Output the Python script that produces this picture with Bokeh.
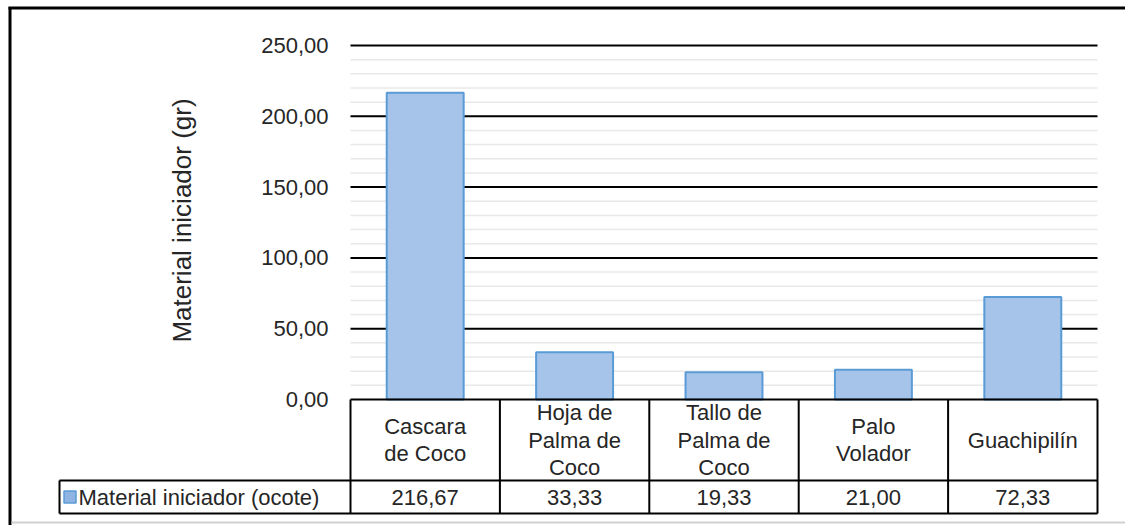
from bokeh.plotting import figure
from bokeh.models import Range1d, ColumnDataSource
from bokeh.core.properties import value
from bokeh.embed import file_html
from bokeh.resources import INLINE
import math

# ---- data ----
categories = ["Cascara\nde Coco", "Hoja de\nPalma de\nCoco", "Tallo de\nPalma de\nCoco", "Palo\nVolador", "Guachipilín"]
values = [216.67, 33.33, 19.33, 21.00, 72.33]
value_labels = ["216,67", "33,33", "19,33", "21,00", "72,33"]
series_name = "Material iniciador (ocote)"
y_title = "Material iniciador (gr)"
major_ticks = [0, 50, 100, 150, 200, 250]
major_tick_labels = ["0,00", "50,00", "100,00", "150,00", "200,00", "250,00"]
minor_ticks = [t for t in range(10, 250, 10) if t % 50 != 0]

# ---- layout constants (pixels, origin top-left of figure) ----
W, H = 1125, 525
CAT_PX = 149.4          # width of one category column
PLOT_LEFT_PX = 350      # x of left edge of plot area
ZERO_PX = 399           # y of value 0
PX_PER_UNIT = 1.416     # pixels per y unit

x0 = -0.5 - PLOT_LEFT_PX / CAT_PX
x1 = x0 + W / CAT_PX
y1 = ZERO_PX / PX_PER_UNIT
y0 = -(H - ZERO_PX) / PX_PER_UNIT

def dx(px):
    return x0 + px / CAT_PX

def dy(py):
    return (ZERO_PX - py) / PX_PER_UNIT

FONT = value("Liberation Sans")
TXT = "#262626"
FS = "22px"
n = len(categories)
xs = list(range(n))

p = figure(width=W, height=H, output_backend="svg", toolbar_location=None,
           x_range=Range1d(x0, x1), y_range=Range1d(y0, y1),
           min_border=0, border_fill_color="white", background_fill_color="white")
p.axis.visible = False
p.grid.visible = False
p.outline_line_color = None

left = -0.5
right = n - 0.5

# minor gridlines
p.segment(x0=[left] * len(minor_ticks), y0=minor_ticks, x1=[right] * len(minor_ticks), y1=minor_ticks,
          line_color="#e8e8e8", line_width=1.5)
# major gridlines (0 drawn later as table border)
mt = [t for t in major_ticks if t > 0]
p.segment(x0=[left] * len(mt), y0=mt, x1=[right] * len(mt), y1=mt, line_color="black", line_width=2)

# bars
src = ColumnDataSource(dict(x=xs, top=values))
p.vbar(x="x", top="top", bottom=0, width=0.515, source=src,
       fill_color="#a6c3ea", line_color="#5b9bd5", line_width=2)

# y tick labels
p.text(x=[dx(328)] * len(major_ticks), y=major_ticks, text=major_tick_labels,
       text_align="right", text_baseline="middle", text_font=FONT, text_font_size=FS,
       text_color=TXT)

# y-axis title
p.text(x=[dx(181)], y=[dy(220)], text=[y_title], angle=math.pi / 2,
       text_align="center", text_baseline="middle", text_font=FONT, text_font_size="26px",
       text_color=TXT)

# ---- data table ----
row_div = dy(480)
bottom = dy(513)
leg_left = dx(59)
bounds = [i - 0.5 for i in range(n + 1)]
# vertical lines of the columns
p.segment(x0=bounds, y0=[0] * len(bounds), x1=bounds, y1=[bottom] * len(bounds),
          line_color="black", line_width=2)
# legend cell left line
p.segment(x0=[leg_left], y0=[row_div], x1=[leg_left], y1=[bottom], line_color="black", line_width=2)
# horizontal lines
p.segment(x0=[left, leg_left, leg_left], y0=[0, row_div, bottom],
          x1=[right, right, right], y1=[0, row_div, bottom], line_color="black", line_width=2)

# category labels
p.text(x=xs, y=[(0 + row_div) / 2] * n, text=categories, text_align="center", text_baseline="middle",
       text_font=FONT, text_font_size=FS, text_color=TXT, text_line_height=1.1)
# value labels
p.text(x=xs, y=[(row_div + bottom) / 2] * n, text=value_labels, text_align="center",
       text_baseline="middle", text_font=FONT, text_font_size=FS, text_color=TXT)
# legend swatch and name
p.rect(x=[dx(69.5)], y=[(row_div + bottom) / 2], width=12 / CAT_PX, height=12 / PX_PER_UNIT,
       fill_color="#8fb4e3", line_color="#5b9bd5", line_width=1.5)
p.text(x=[dx(78)], y=[(row_div + bottom) / 2], text=[series_name], text_align="left",
       text_baseline="middle", text_font=FONT, text_font_size=FS, text_color=TXT)

# ---- outer frame ----
p.segment(x0=[dx(9.5), dx(8)], y0=[dy(6.5), dy(7.5)], x1=[dx(9.5), dx(W)], y1=[dy(H), dy(7.5)],
          line_color="black", line_width=3)
p.segment(x0=[dx(11)], y0=[dy(522)], x1=[dx(W)], y1=[dy(522)], line_color="#d0d0d0", line_width=2)

open("out.html", "w").write(file_html(p, INLINE))
